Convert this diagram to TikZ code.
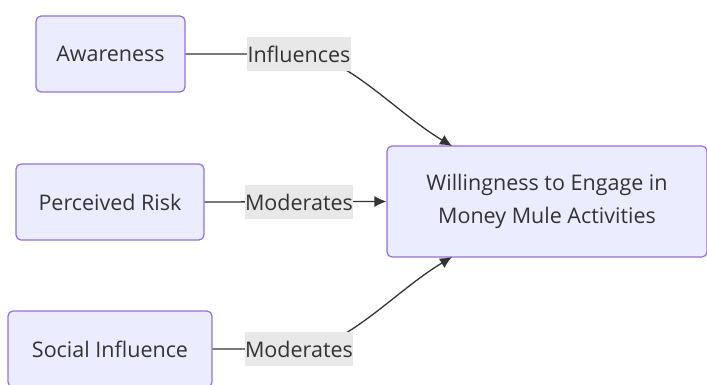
\documentclass[tikz,border=0pt]{standalone}
\usepackage{fontspec}
\setmainfont{Open Sans}
\usetikzlibrary{positioning,arrows.meta}
\definecolor{boxfill}{HTML}{ECECFF}
\definecolor{boxline}{HTML}{9370DB}
\definecolor{labfill}{HTML}{E8E8E8}
\definecolor{ink}{HTML}{333333}
\tikzset{
  box/.style={draw=boxline, fill=boxfill, rounded corners=5pt, line width=1.2pt,
    minimum height=76pt, text=ink, font=\fontsize{21.5}{33}\selectfont, align=center},
  edgelab/.style={fill=labfill, text=ink, inner sep=0.5pt, minimum height=34pt,
    font=\fontsize{21.5}{24}\selectfont},
  arr/.style={draw=ink, line width=1.3pt, -{Latex[length=12pt,width=11pt]}}
}
\begin{document}
\begin{tikzpicture}[x=1pt, y=-1pt]
  \useasboundingbox (0,0) rectangle (707,385);
  \clip (0,0) rectangle (707,385);

  \node[box, minimum width=149pt] (aware) at (110.5,54) {Awareness};
  \node[box, minimum width=188pt] (risk) at (110,202) {Perceived Risk};
  \node[box, minimum width=204pt] (social) at (110,349) {Social Influence};
  \node[box, minimum width=320pt, minimum height=111pt] (will) at (547,201.5)
    {Willingness to Engage in\\Money Mule Activities};

  \coordinate (tipA) at (452,146);
  \coordinate (tipC) at (452,257);

  \draw[arr] (aware.east) -- (299,54) .. controls (345,54) and (395,112) .. (tipA);
  \draw[arr] (risk.east) -- (will.west);
  \draw[arr] (social.east) -- (299,349) .. controls (345,349) and (395,291) .. (tipC);

  \node[edgelab] (lab1) at (299,54) {Influences};
  \node[edgelab] (lab2) at (299,202) {Moderates};
  \node[edgelab] (lab3) at (299,349) {Moderates};
\end{tikzpicture}
\end{document}
